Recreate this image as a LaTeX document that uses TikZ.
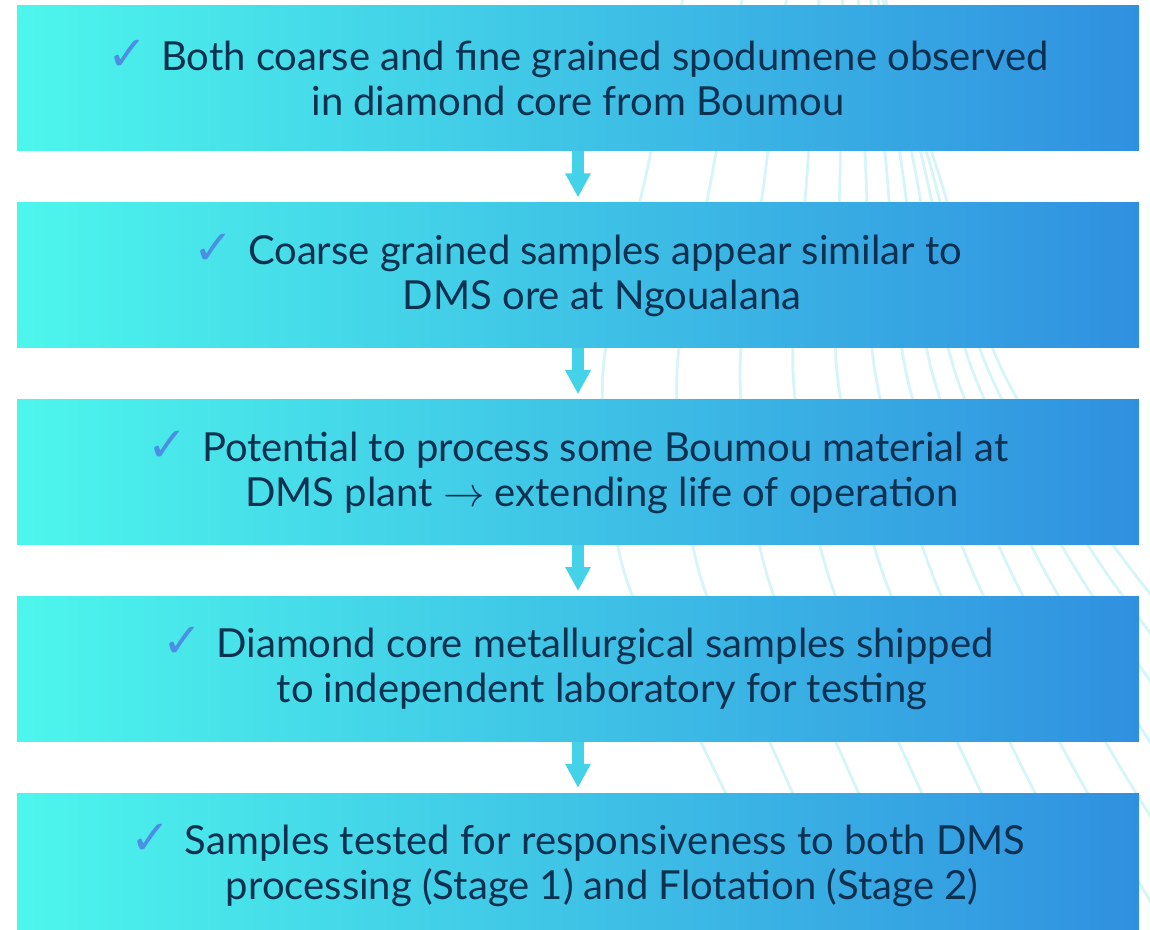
\documentclass[tikz,border=0pt]{standalone}
\usepackage{fontspec}
\setmainfont{Lato}
\newfontfamily\symfont{DejaVu Sans}
\usetikzlibrary{arrows.meta,positioning}
\definecolor{boxleft}{HTML}{4DF6EC}
\definecolor{boxright}{HTML}{3090E0}
\definecolor{textnavy}{HTML}{0B3050}
\definecolor{tickblue}{HTML}{4A8FE4}
\definecolor{arrowcyan}{HTML}{44D2E8}
\definecolor{swirl}{HTML}{D6F5F9}
\newcommand{\okmark}{{\symfont\fontsize{24}{24}\selectfont\color{tickblue}✓}\hspace{0.35em}}
\tikzset{
  %define style for boxes
  stage/.style={
    rectangle,
    draw=none,
    left color=boxleft,
    right color=boxright,
    minimum width=561pt,
    minimum height=72.5pt,
    inner sep=0pt,
    align=center,
    text=textnavy,
    font=\fontsize{20}{22.5}\selectfont},
  %define style for arrows
  flow/.style={
    -{Triangle[width=12pt,length=12pt]},
    line width=6pt,
    draw=arrowcyan,
    shorten >=2.5pt},
  %faint lines behind the boxes
  swirl/.style={
    draw=swirl,
    line width=1.4pt}
}

\begin{document}
\begin{tikzpicture}[x=0.5pt, y=-0.5pt, node distance=25.5pt]
\useasboundingbox (0,0) rectangle (1150,930);
%background lines
\foreach \a/\b/\c/\d in {646/603/623/712, 712/677/698/780, 765/740/765/846,
    807/793/826/909, 840/837/881/968, 866/875/930/1021, 887/906/971/1072,
    903/932/1009/1119, 916/955/1043/1165, 926/973/1075/1210,
    933/989/1103/1255, 939/1003/1130/1300}
  \draw[swirl] plot[smooth] coordinates {({1.9*\a-0.9*\b},-10) (\a,175) (\b,372) (\c,568) (\d,765) ({2*\d-\c},940)};

%nodes
\node[stage] (core) at (578,78.5)
     {\okmark Both coarse and fine grained spodumene observed\\ in diamond core from Boumou};
\node[stage, below=of core] (coarse)
     {\okmark Coarse grained samples appear similar to\\ \hspace*{24pt}DMS ore at Ngoualana};
\node[stage, below=of coarse] (plant)
     {\okmark Potential to process some Boumou material at\\ \hspace*{24pt}DMS plant $\rightarrow$ extending life of operation};
\node[stage, below=of plant] (shipped)
     {\okmark Diamond core metallurgical samples shipped\\ \hspace*{24pt}to independent laboratory for testing};
\node[stage, below=of shipped] (tested)
     {\okmark Samples tested for responsiveness to both DMS\\ \hspace*{24pt}processing (Stage 1) and Flotation (Stage 2)};

%arrows
\draw[flow] (core) -- (coarse);
\draw[flow] (coarse) -- (plant);
\draw[flow] (plant) -- (shipped);
\draw[flow] (shipped) -- (tested);

\end{tikzpicture}
\end{document}
